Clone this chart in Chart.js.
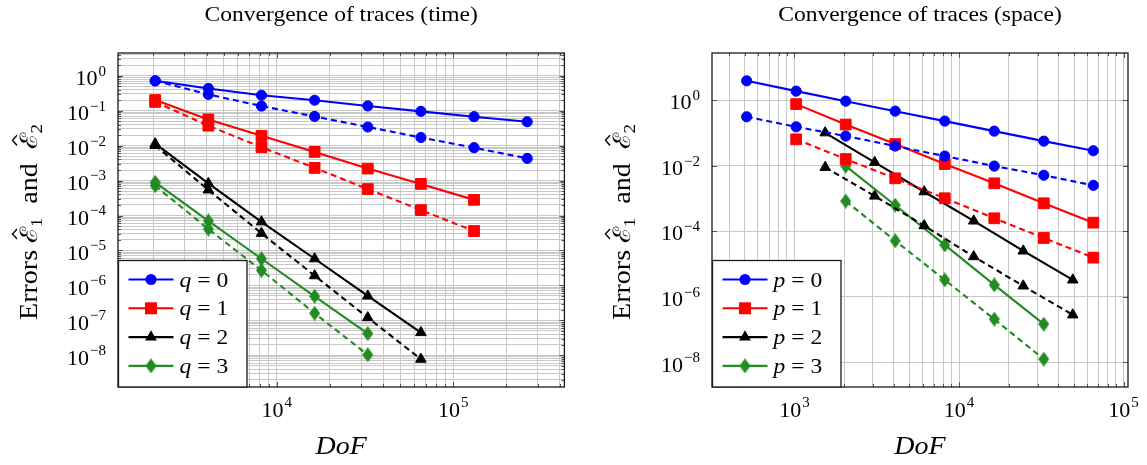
<!DOCTYPE html>
<html><head><meta charset="utf-8">
<script src="https://cdn.jsdelivr.net/npm/chart.js@4.4.0/dist/chart.umd.min.js"></script>
<style>
html,body{margin:0;padding:0;background:#fff;}
body{width:1147px;height:465px;overflow:hidden;position:relative;}
canvas{position:absolute;top:0;}
#c1{left:0;} #c2{left:573px;}
</style></head>
<body>
<canvas id="c1" width="573" height="465"></canvas>
<canvas id="c2" width="574" height="465"></canvas>
<script>
// ---------- data: convergence in time ----------
const DOF_TIME   = [2048, 4096, 8192, 16384, 32768, 65536, 131072, 262144];
const TIME_Q0_E1 = [0.71, 0.43, 0.275, 0.198, 0.136, 0.095, 0.067, 0.048];
const TIME_Q0_E2 = [0.71, 0.29, 0.135, 0.068, 0.034, 0.017, 0.0087, 0.0043];
const TIME_Q1_E1 = [0.2, 0.056, 0.019, 0.0066, 0.0022, 8.0e-4, 2.8e-4];
const TIME_Q1_E2 = [0.177, 0.037, 0.009, 0.0023, 5.7e-4, 1.43e-4, 3.6e-5];
const TIME_Q2_E1 = [0.0113, 8.3e-4, 6.6e-5, 5.8e-6, 5.0e-7, 4.5e-8];
const TIME_Q2_E2 = [0.0101, 5.4e-4, 3.1e-5, 1.9e-6, 1.2e-7, 7.8e-9];
const TIME_Q3_E1 = [8.9e-4, 7.0e-5, 5.8e-6, 4.9e-7, 4.2e-8];
const TIME_Q3_E2 = [7.1e-4, 4.1e-5, 2.7e-6, 1.6e-7, 1.04e-8];

// ---------- data: convergence in space ----------
const DOF_SPACE    = [512, 1024, 2048, 4096, 8192, 16384, 32768, 65536];
const DOF_SPACE_P2 = [1536, 3072, 6144, 12288, 24576, 49152];
const SPACE_P0_E1 = [3.88, 1.88, 0.93, 0.46, 0.229, 0.113, 0.056, 0.0285];
const SPACE_P0_E2 = [0.31, 0.153, 0.080, 0.0396, 0.0196, 0.0097, 0.0051, 0.0025];
const SPACE_P1_E1 = [0.755, 0.18, 0.0456, 0.0112, 0.00289, 7.1e-4, 1.82e-4];
const SPACE_P1_E2 = [0.0634, 0.0159, 0.0041, 0.00101, 2.47e-4, 6.2e-5, 1.56e-5];
const SPACE_P2_E1 = [0.1007, 0.0126, 0.0016, 2.05e-4, 2.49e-5, 3.25e-6];
const SPACE_P2_E2 = [8.87e-3, 1.18e-3, 1.47e-4, 1.67e-5, 2.13e-6, 2.79e-7];
const SPACE_P3_E1 = [9.7e-3, 6.2e-4, 3.8e-5, 2.29e-6, 1.45e-7];
const SPACE_P3_E2 = [8.3e-4, 5.1e-5, 3.25e-6, 2.06e-7, 1.24e-8];

// ---------- labels ----------
const TITLE_TIME  = 'Convergence of traces (time)';
const TITLE_SPACE = 'Convergence of traces (space)';
const LEGEND_TIME  = ['q = 0', 'q = 1', 'q = 2', 'q = 3'];
const LEGEND_SPACE = ['p = 0', 'p = 1', 'p = 2', 'p = 3'];
const X_TICK_EXP_TIME  = [4, 5];
const Y_TICK_EXP_TIME  = [0, -1, -2, -3, -4, -5, -6, -7, -8];
const X_TICK_EXP_SPACE = [3, 4, 5];
const Y_TICK_EXP_SPACE = [0, -2, -4, -6, -8];
const X_TITLE = 'DoF';

// ---------- style ----------
const BLUE = '#0000ff', RED = '#ff0000', BLACK = '#000000', GREEN = '#228b22';
const SERIF = '"Liberation Serif","DejaVu Serif",serif';
const GRID = '#c8c8c8';
const SX = 1.12; // horizontal widening to mimic Computer Modern proportions

function diamondImg(color, w, h) {
  const c = document.createElement('canvas'); c.width = w; c.height = h;
  const g = c.getContext('2d'); g.fillStyle = color; g.beginPath();
  g.moveTo(w/2, 0); g.lineTo(w, h/2); g.lineTo(w/2, h); g.lineTo(0, h/2); g.closePath(); g.fill();
  return c;
}
const DIAMOND = diamondImg(GREEN, 11, 15);
const MARKERS = [
  {pointStyle: 'circle', pointRadius: 5.1},
  {pointStyle: 'rect', pointRadius: 7.6},
  {pointStyle: 'triangle', pointRadius: 6.1},
  {pointStyle: DIAMOND, pointRadius: 6}
];
const COLORS = [BLUE, RED, BLACK, GREEN];

function pts(xs, ys, off) { return ys.map((v, i) => ({x: xs[i + (off || 0)], y: v})); }
function ds(data, k, dashed) {
  return Object.assign({
    data, borderColor: COLORS[k], backgroundColor: COLORS[k], borderWidth: 2.1,
    pointBorderWidth: 1, pointBorderColor: COLORS[k], pointBackgroundColor: COLORS[k],
    borderDash: dashed ? [6, 4] : [], tension: 0, fill: false, showLine: true
  }, MARKERS[k]);
}
function logLimits(arrs) {
  const all = [].concat(...arrs);
  const lo = Math.log10(Math.min(...all)), hi = Math.log10(Math.max(...all)), r = hi - lo;
  return [Math.pow(10, lo - 0.1 * r), Math.pow(10, hi + 0.1 * r)];
}
function logTicks(min, max, minors, step) {
  const out = [];
  const k0 = Math.floor(Math.log10(min)), k1 = Math.ceil(Math.log10(max));
  for (let k = k0; k <= k1; k++) {
    for (let m = 1; m <= 9; m++) {
      if (m > 1 && !minors) continue;
      if (m === 1 && Math.abs(k % step) !== 0) continue;
      const v = Number((m * Math.pow(10, k)).toPrecision(12));
      if (v >= min && v <= max) out.push({value: v, major: m === 1});
    }
  }
  return out;
}

function textS(ctx, t, x, y, sx) {
  ctx.save(); ctx.translate(x, y); ctx.scale(sx, 1); ctx.fillText(t, 0, 0); ctx.restore();
}

function drawPow(ctx, x, y, exp, align) {
  const base = '10', sup = exp < 0 ? '\u2212' + Math.abs(exp) : String(exp);
  ctx.font = '22px ' + SERIF; const wb = ctx.measureText(base).width;
  ctx.font = '15px ' + SERIF; const ws = ctx.measureText(sup).width;
  const total = wb + 1 + ws;
  const x0 = align === 'center' ? x - total / 2 : x - total;
  ctx.textAlign = 'left'; ctx.textBaseline = 'middle'; ctx.fillStyle = '#000';
  ctx.font = '22px ' + SERIF; ctx.fillText(base, x0, y + 3.5);
  ctx.font = '15px ' + SERIF; ctx.fillText(sup, x0 + wb + 1, y - 4);
}

function drawYTitle(ctx, cx, cy) {
  ctx.save(); ctx.translate(cx, cy); ctx.rotate(-Math.PI / 2); ctx.scale(SX, 1);
  const F = '25px ' + SERIF, FC = '24px "DejaVu Serif",serif', FS = '17px ' + SERIF;
  const parts = [
    {t: 'Errors ', f: F}, {t: '\u2130', f: FC, hat: true}, {t: '1', f: FS, dy: 5},
    {t: '  and  ', f: F}, {t: '\u2130', f: FC, hat: true}, {t: '2', f: FS, dy: 5}
  ];
  let total = 0;
  parts.forEach(p => { ctx.font = p.f; p.w = ctx.measureText(p.t).width; total += p.w; });
  let x = -total / 2; const base = 8;
  ctx.fillStyle = '#000'; ctx.strokeStyle = '#000'; ctx.textAlign = 'left'; ctx.textBaseline = 'alphabetic';
  parts.forEach(p => {
    ctx.font = p.f; ctx.fillText(p.t, x, base + (p.dy || 0));
    if (p.hat) {
      const hx = x + p.w / 2 + 1; ctx.lineWidth = 1.3; ctx.beginPath();
      ctx.moveTo(hx - 4.5, base - 20); ctx.lineTo(hx, base - 24.5); ctx.lineTo(hx + 4.5, base - 20); ctx.stroke();
    }
    x += p.w;
  });
  ctx.restore();
}

function drawMarker(ctx, k, x, y) {
  ctx.fillStyle = COLORS[k]; ctx.beginPath();
  if (k === 0) { ctx.arc(x, y, 5.5, 0, Math.PI * 2); ctx.fill(); }
  else if (k === 1) { ctx.fillRect(x - 6, y - 6, 12, 12); }
  else if (k === 2) { const r = 6.8; ctx.moveTo(x, y - r); ctx.lineTo(x + r * 0.866, y + r / 2); ctx.lineTo(x - r * 0.866, y + r / 2); ctx.closePath(); ctx.fill(); }
  else { ctx.drawImage(DIAMOND, x - 5.5, y - 7.5); }
}

function decor(spec) {
  return {
    id: 'decor',
    afterDraw(chart) {
      const ctx = chart.ctx, a = chart.chartArea, xs = chart.scales.x, ys = chart.scales.y;
      ctx.save();
      // inner tick marks on all sides
      ctx.strokeStyle = '#555'; ctx.lineWidth = 1; ctx.setLineDash([]);
      ctx.beginPath();
      xs.ticks.forEach(t => {
        const p = Math.round(xs.getPixelForValue(t.value)) + 0.5, L = t.major ? 5 : 3;
        ctx.moveTo(p, a.bottom); ctx.lineTo(p, a.bottom - L); ctx.moveTo(p, a.top); ctx.lineTo(p, a.top + L);
      });
      ys.ticks.forEach(t => {
        const p = Math.round(ys.getPixelForValue(t.value)) + 0.5, L = t.major ? 5 : 3;
        ctx.moveTo(a.left, p); ctx.lineTo(a.left + L, p); ctx.moveTo(a.right, p); ctx.lineTo(a.right - L, p);
      });
      ctx.stroke();
      // box
      ctx.strokeStyle = '#1a1a1a'; ctx.lineWidth = 1.3;
      ctx.strokeRect(a.left, a.top, a.right - a.left, a.bottom - a.top);
      // legend
      const lx = a.left + 0.5, ly = 260.5, lw = 128.5, lh = a.bottom - ly;
      ctx.fillStyle = '#fff'; ctx.fillRect(lx, ly, lw, lh);
      ctx.strokeRect(lx, ly, lw, lh);
      spec.legend.forEach((lab, k) => {
        const y = ly + 19 + 28.8 * k;
        ctx.strokeStyle = COLORS[k]; ctx.lineWidth = 2.1;
        ctx.beginPath(); ctx.moveTo(lx + 10, y); ctx.lineTo(lx + 55, y); ctx.stroke();
        drawMarker(ctx, k, lx + 32.5, y);
        const [v, eq, n] = lab.split(' ');
        ctx.fillStyle = '#000'; ctx.textBaseline = 'alphabetic'; ctx.textAlign = 'left';
        let tx = lx + 61;
        ctx.font = 'italic 21px ' + SERIF; textS(ctx, v, tx, y + 7, SX); tx += ctx.measureText(v).width * SX + 6;
        ctx.font = '21px ' + SERIF; textS(ctx, eq, tx, y + 7, SX); tx += ctx.measureText(eq).width * SX + 6;
        textS(ctx, n, tx, y + 7, SX);
      });
      // tick labels
      spec.xExp.forEach(e => drawPow(ctx, xs.getPixelForValue(Math.pow(10, e)), 407.5, e, 'center'));
      spec.yExp.forEach(e => drawPow(ctx, a.left - 12, ys.getPixelForValue(Math.pow(10, e)), e, 'right'));
      // titles
      ctx.fillStyle = '#000'; ctx.textAlign = 'center'; ctx.textBaseline = 'middle';
      ctx.font = '21px ' + SERIF; textS(ctx, spec.title, (a.left + a.right) / 2, 15, SX);
      ctx.font = 'italic 25px ' + SERIF; textS(ctx, X_TITLE, (a.left + a.right) / 2, 447, SX);
      drawYTitle(ctx, spec.yTitleX, (a.top + a.bottom) / 2 + 2);
      ctx.restore();
    }
  };
}

function makeChart(id, spec) {
  const [xmin, xmax] = logLimits(spec.xData);
  const [ymin, ymax] = logLimits(spec.yData);
  const xT = logTicks(xmin, xmax, true, 1);
  const yT = logTicks(ymin, ymax, spec.yMinor, spec.yStep);
  return new Chart(document.getElementById(id), {
    type: 'line',
    data: {datasets: spec.datasets},
    options: {
      responsive: false, animation: false, devicePixelRatio: 1,
      layout: {padding: spec.padding},
      plugins: {legend: {display: false}, tooltip: {enabled: false}, title: {display: false}},
      scales: {
        x: {type: 'logarithmic', min: xmin, max: xmax, bounds: 'data', offset: false,
            afterBuildTicks: s => { s.ticks = xT.map(t => Object.assign({}, t)); },
            ticks: {display: false}, grid: {color: GRID, lineWidth: 1, drawTicks: false}, border: {display: false}},
        y: {type: 'logarithmic', min: ymin, max: ymax, bounds: 'data', offset: false,
            afterBuildTicks: s => { s.ticks = yT.map(t => Object.assign({}, t)); },
            ticks: {display: false}, grid: {color: GRID, lineWidth: 1, drawTicks: false}, border: {display: false}}
      }
    },
    plugins: [decor(spec)]
  });
}

makeChart('c1', {
  title: TITLE_TIME, legend: LEGEND_TIME, xExp: X_TICK_EXP_TIME, yExp: Y_TICK_EXP_TIME,
  yMinor: true, yStep: 1, yTitleX: 29,
  padding: {left: 118, top: 53, right: 7, bottom: 78},
  xData: [DOF_TIME],
  yData: [TIME_Q0_E1, TIME_Q0_E2, TIME_Q1_E1, TIME_Q1_E2, TIME_Q2_E1, TIME_Q2_E2, TIME_Q3_E1, TIME_Q3_E2],
  datasets: [
    ds(pts(DOF_TIME, TIME_Q0_E1), 0, false), ds(pts(DOF_TIME, TIME_Q0_E2), 0, true),
    ds(pts(DOF_TIME, TIME_Q1_E1), 1, false), ds(pts(DOF_TIME, TIME_Q1_E2), 1, true),
    ds(pts(DOF_TIME, TIME_Q2_E1), 2, false), ds(pts(DOF_TIME, TIME_Q2_E2), 2, true),
    ds(pts(DOF_TIME, TIME_Q3_E1), 3, false), ds(pts(DOF_TIME, TIME_Q3_E2), 3, true)
  ]
});

makeChart('c2', {
  title: TITLE_SPACE, legend: LEGEND_SPACE, xExp: X_TICK_EXP_SPACE, yExp: Y_TICK_EXP_SPACE,
  yMinor: false, yStep: 2, yTitleX: 49,
  padding: {left: 139, top: 53, right: 19, bottom: 78},
  xData: [DOF_SPACE],
  yData: [SPACE_P0_E1, SPACE_P0_E2, SPACE_P1_E1, SPACE_P1_E2, SPACE_P2_E1, SPACE_P2_E2, SPACE_P3_E1, SPACE_P3_E2],
  datasets: [
    ds(pts(DOF_SPACE, SPACE_P0_E1), 0, false), ds(pts(DOF_SPACE, SPACE_P0_E2), 0, true),
    ds(pts(DOF_SPACE, SPACE_P1_E1, 1), 1, false), ds(pts(DOF_SPACE, SPACE_P1_E2, 1), 1, true),
    ds(pts(DOF_SPACE_P2, SPACE_P2_E1), 2, false), ds(pts(DOF_SPACE_P2, SPACE_P2_E2), 2, true),
    ds(pts(DOF_SPACE, SPACE_P3_E1, 2), 3, false), ds(pts(DOF_SPACE, SPACE_P3_E2, 2), 3, true)
  ]
});
</script>
</body></html>
